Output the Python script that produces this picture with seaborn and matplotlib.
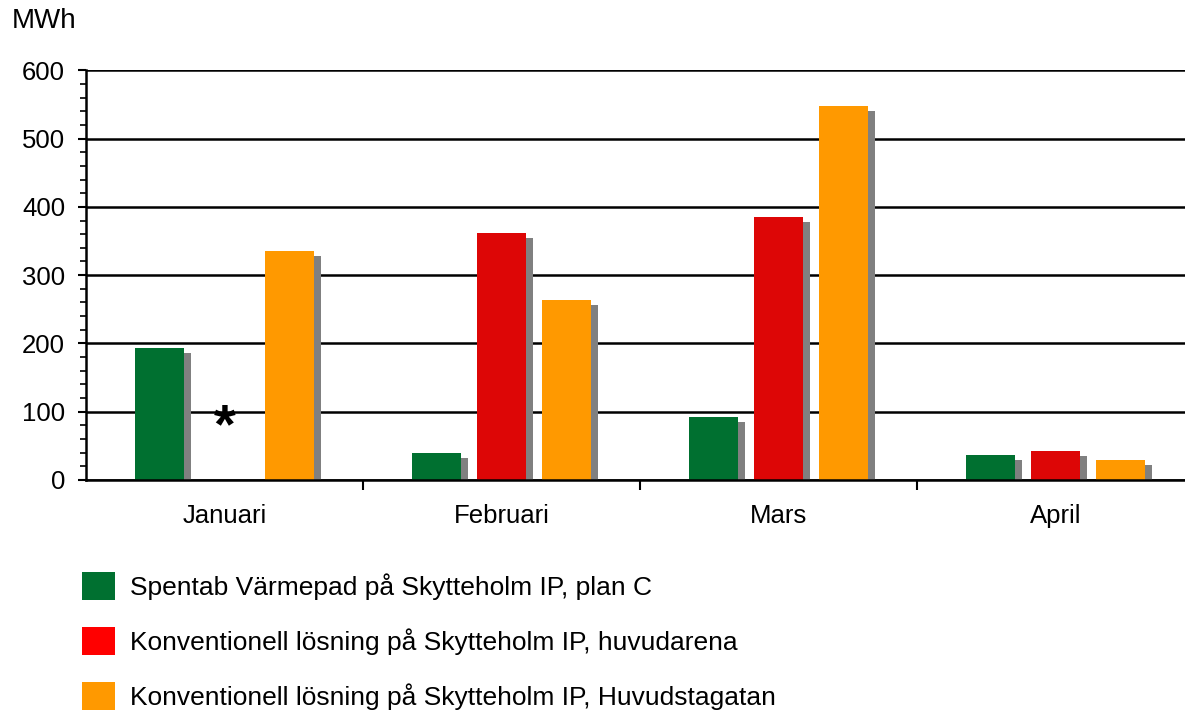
import numpy as np
import pandas as pd
import matplotlib
matplotlib.use("Agg")
import matplotlib.pyplot as plt
import matplotlib.patheffects as pe
from matplotlib.patches import Patch
from matplotlib.ticker import MultipleLocator, FixedLocator
import seaborn as sns

# data
months = ["Januari", "Februari", "Mars", "April"]
series = [
    "Spentab Värmepad på Skytteholm IP, plan C",
    "Konventionell lösning på Skytteholm IP, huvudarena",
    "Konventionell lösning på Skytteholm IP, Huvudstagatan",
]
spentab = [193, 39, 92, 36]
huvudarena = [np.nan, 361, 385, 42]   # januari missing (*)
huvudstagatan = [335, 263, 547, 29]
colors = ["#007030", "#DD0606", "#FF9900"]
legend_colors = ["#007030", "#FF0000", "#FF9900"]

df = pd.DataFrame({
    "month": months * 3,
    "series": [series[0]] * 4 + [series[1]] * 4 + [series[2]] * 4,
    "value": spentab + huvudarena + huvudstagatan,
})

sns.set_theme(style="white")
plt.rcParams["font.family"] = ["Liberation Sans", "DejaVu Sans"]
plt.rcParams["text.color"] = "black"

fig = plt.figure(figsize=(11.85, 7.1), dpi=100)
# axes runs past the right edge like the original
ax = fig.add_axes([0.0726, 0.324, 0.935, 0.577])

sns.barplot(data=df, x="month", y="value", hue="series", hue_order=series,
            order=months, palette=colors, width=0.70, gap=0.24,
            saturation=1, errorbar=None, legend=False, ax=ax, zorder=3)

shadow = [pe.SimplePatchShadow(offset=(5, -3.6), shadow_rgbFace="#808080", alpha=1.0),
          pe.Normal()]
for p in ax.patches:
    p.set_linewidth(0)
    p.set_path_effects(shadow)

# asterisk where januari value is missing
ax.text(0, 76, "*", ha="center", va="center", fontsize=40, fontweight="bold",
        color="black", zorder=4)

ax.set_ylim(0, 600)
ax.set_xlim(-0.5, 3.5)
ax.yaxis.set_major_locator(MultipleLocator(100))
ax.yaxis.set_minor_locator(MultipleLocator(20))
ax.grid(axis="y", color="black", linewidth=1.8, zorder=1)
ax.set_axisbelow(True)

for s in ["top", "right"]:
    ax.spines[s].set_visible(False)
for s in ["left", "bottom"]:
    ax.spines[s].set_color("black")
    ax.spines[s].set_linewidth(1.8)
    ax.spines[s].set_zorder(5)

ax.tick_params(axis="y", which="major", direction="out", length=6, width=1.5,
               color="black", labelsize=18.5, pad=9, left=True)
ax.tick_params(axis="y", which="minor", direction="out", length=4, width=1.2,
               color="black", left=True)
ax.xaxis.set_minor_locator(FixedLocator([0.5, 1.5, 2.5]))
ax.tick_params(axis="x", which="major", length=0, labelsize=18.5, pad=17)
ax.tick_params(axis="x", which="minor", direction="out", length=7, width=1.5,
               color="black", bottom=True)
ax.set_xlabel("")
ax.set_ylabel("")
for lbl in ax.get_xticklabels() + ax.get_yticklabels():
    lbl.set_color("black")

fig.text(0.010, 0.970, "MWh", fontsize=20, color="black", va="center")

handles = [Patch(facecolor=c, edgecolor="none") for c in legend_colors]
fig.legend(handles, series, loc="upper left", bbox_to_anchor=(0.058, 0.213),
           frameon=False, fontsize=19, handlelength=1.25, handleheight=1.25,
           handletextpad=0.57, labelspacing=1.03, borderpad=0, labelcolor="black")

fig.savefig("out.png", dpi=100, facecolor="white")
